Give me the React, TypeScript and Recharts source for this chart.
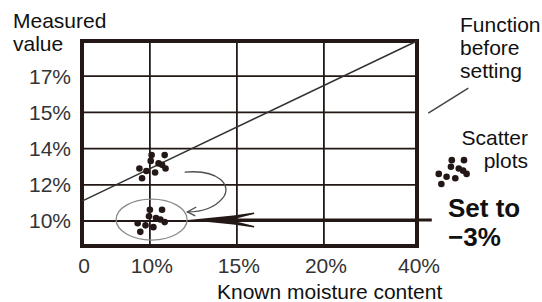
import {
  ScatterChart,
  Scatter,
  XAxis,
  YAxis,
  CartesianGrid,
  ReferenceLine,
  ReferenceDot,
  ReferenceArea,
} from "recharts";

// schematic axis positions (the original axes are not to scale)
const xTickPos = [0, 0.78, 1.78, 2.78, 3.85];
const xTickLabels = ["0", "10%", "15%", "20%", "40%"];
const yTickPos = [0, 1, 2, 3, 4];
const yTickLabels = ["10%", "12%", "14%", "15%", "17%"];

// scatter before setting
const beforeX = [0.8, 0.95, 0.79, 0.88, 0.92, 0.96, 0.66, 0.74, 0.84, 0.69];
const beforeY = [1.82, 1.82, 1.66, 1.59, 1.55, 1.45, 1.45, 1.38, 1.34, 1.18];

// scatter after the -3% setting
const afterX = [0.78, 0.92, 0.77, 0.85, 0.9, 0.95, 0.64, 0.73, 0.82, 0.67];
const afterY = [0.31, 0.31, 0.13, 0.08, 0.04, -0.03, -0.06, -0.12, -0.17, -0.3];

// small scatter glyph next to the "Scatter plots" label
const iconX = [4.25, 4.39, 4.24, 4.33, 4.38, 4.42, 4.1, 4.19, 4.29, 4.13];
const iconY = [1.68, 1.68, 1.5, 1.45, 1.39, 1.3, 1.3, 1.22, 1.18, 1.02];

// function before setting
const funcLine = [
  { x: 0, y: 0.55 },
  { x: 3.85, y: 4.97 },
];
const leaderLine = [
  { x: 3.98, y: 2.98 },
  { x: 4.44, y: 3.67 },
];
const setArrow = [
  { x: 4.02, y: 0.03 },
  { x: 1.22, y: 0.03 },
];
const curveArrow = [
  { x: 1.18, y: 1.35 },
  { x: 1.21, y: 0.25 },
];
const ellipseCenter = { x: 0.8, y: 0.04 };

const xDomain = [0, 3.85];
const yDomain = [-0.69, 4.97];

const INK = "#231815";
const FONT = '"Liberation Sans", Arial, sans-serif';

const before = beforeX.map((x, i) => ({ x, y: beforeY[i] }));
const after = afterX.map((x, i) => ({ x, y: afterY[i] }));
const icon = iconX.map((x, i) => ({ x, y: iconY[i] }));

const Dot = (props: any) => (
  <circle cx={props.cx} cy={props.cy} r={3.3} fill={INK} />
);

const BigArrow = (props: any) => {
  const { x1, y1, x2 } = props;
  const y = y1;
  const pts = [
    [x2, y],
    [x2 + 45, y - 4.5],
    [x2 + 66, y - 7.5],
    [x2 + 66, y - 6],
    [x2 + 48, y - 1.5],
    [x2 + 48, y + 1.5],
    [x2 + 66, y + 6],
    [x2 + 66, y + 7.5],
    [x2 + 45, y + 4.5],
  ]
    .map((p) => p.join(","))
    .join(" ");
  return (
    <g>
      <line x1={x1} y1={y} x2={x2 + 46} y2={y} stroke={INK} strokeWidth={3} />
      <polygon points={pts} fill={INK} />
    </g>
  );
};

const CurveArrow = (props: any) => {
  const { x1, y1, x2, y2 } = props;
  const d = `M${x1},${y1} C${x1 + 35},${y1 - 3} ${x1 + 48},${y1 + 14} ${x1 + 38},${y1 + 26} S${x2 + 12},${y2} ${x2},${y2}`;
  return (
    <g fill="none" stroke="#4d4d4d" strokeWidth={1.3}>
      <path d={d} />
      <path d={`M${x2 + 9},${y2 - 5} L${x2},${y2} L${x2 + 8},${y2 + 4}`} />
    </g>
  );
};

const Ellipse = (props: any) => (
  <ellipse
    cx={props.cx}
    cy={props.cy}
    rx={35.5}
    ry={20.5}
    fill="none"
    stroke="#8a8a8a"
    strokeWidth={1.3}
  />
);

const textStyle: any = {
  position: "absolute",
  fontFamily: FONT,
  color: "#111",
  fontSize: 21,
  lineHeight: "23px",
  whiteSpace: "nowrap",
};

export default function App() {
  return (
    <div
      style={{
        position: "absolute",
        left: 0,
        top: 0,
        width: 542,
        height: 302,
        background: "#fff",
        overflow: "hidden",
      }}
    >
      <ScatterChart
        width={542}
        height={302}
        margin={{ top: 41, right: 125, bottom: 0, left: 0 }}
      >
        <CartesianGrid stroke={INK} strokeWidth={1.8} />
        <XAxis
          type="number"
          dataKey="x"
          domain={xDomain}
          ticks={xTickPos}
          interval={0}
          allowDataOverflow
          height={56}
          axisLine={false}
          tickLine={false}
          tickSize={0}
          tickMargin={12}
          tick={{ fill: "#333", fontSize: 21, fontFamily: FONT, dx: 2 }}
          tickFormatter={(v) => xTickLabels[xTickPos.indexOf(v)]}
        />
        <YAxis
          type="number"
          dataKey="y"
          domain={yDomain}
          ticks={yTickPos}
          interval={0}
          allowDataOverflow
          width={82}
          axisLine={false}
          tickLine={false}
          tickSize={0}
          tickMargin={11}
          tick={{ fill: "#333", fontSize: 21, fontFamily: FONT }}
          tickFormatter={(v) => yTickLabels[yTickPos.indexOf(v)]}
        />
        <ReferenceArea
          x1={xDomain[0]}
          x2={xDomain[1]}
          y1={yDomain[0]}
          y2={yDomain[1]}
          fill="none"
          stroke={INK}
          strokeWidth={4}
          ifOverflow="visible"
        />
        <ReferenceLine
          segment={funcLine}
          stroke="#333"
          strokeWidth={1.5}
          ifOverflow="visible"
        />
        <ReferenceLine
          segment={leaderLine}
          stroke="#444"
          strokeWidth={1.5}
          ifOverflow="visible"
        />
        <ReferenceDot
          x={ellipseCenter.x}
          y={ellipseCenter.y}
          r={1}
          ifOverflow="visible"
          shape={Ellipse}
        />
        <ReferenceLine
          segment={curveArrow}
          ifOverflow="visible"
          shape={CurveArrow}
        />
        <ReferenceLine
          segment={setArrow}
          ifOverflow="visible"
          shape={BigArrow}
        />
        <Scatter
          name="Before"
          data={before}
          shape={Dot}
          isAnimationActive={false}
        />
        <Scatter
          name="After"
          data={after}
          shape={Dot}
          isAnimationActive={false}
        />
        {icon.map((p, i) => (
          <ReferenceDot
            key={i}
            x={p.x}
            y={p.y}
            r={3.3}
            fill={INK}
            stroke="none"
            ifOverflow="visible"
          />
        ))}
      </ScatterChart>

      <div style={{ ...textStyle, left: 13, top: 9 }}>
        Measured
        <br />
        value
      </div>
      <div style={{ ...textStyle, left: 460, top: 13 }}>
        Function
        <br />
        before
        <br />
        setting
      </div>
      <div style={{ ...textStyle, right: 14, top: 126, textAlign: "right" }}>
        Scatter
        <br />
        plots
      </div>
      <div
        style={{
          ...textStyle,
          left: 448,
          top: 194,
          fontSize: 26,
          lineHeight: "29px",
          fontWeight: "bold",
        }}
      >
        Set to
        <br />
        −3%
      </div>
      <div style={{ ...textStyle, left: 217, top: 283, lineHeight: "18px" }}>
        Known moisture content
      </div>
    </div>
  );
}
